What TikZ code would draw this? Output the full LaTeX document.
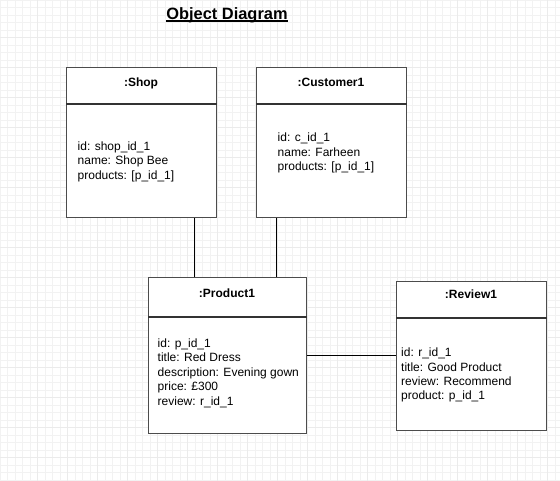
\documentclass[tikz,border=0pt]{standalone}
\usepackage{fontspec}
\setmainfont{Liberation Sans}
\begin{document}
\begin{tikzpicture}[x=1pt,y=-1pt,
  minorgrid/.style={draw=black!5,line width=0.5pt},
  majorgrid/.style={draw=black!8,line width=0.6pt},
  objbox/.style={draw=black!70,line width=1.3pt,fill=white,inner sep=0pt,anchor=north west},
  divider/.style={draw=black!80,line width=1.5pt},
  hdr/.style={font=\bfseries\fontsize{12}{14.5}\selectfont,inner sep=0pt,anchor=base},
  body/.style={font=\fontsize{12}{14.5}\selectfont,inner sep=0pt,anchor=base west},
  link/.style={draw=black,line width=1pt},
  titlestyle/.style={font=\bfseries\fontsize{16.4}{19}\selectfont,inner sep=0pt,anchor=base}]
\useasboundingbox (0,0) rectangle (560,481);
\fill[white] (0,0) rectangle (560,481);
% grid
\foreach \i in {0,...,74} \draw[minorgrid] (\i*7.5,0) -- (\i*7.5,481);
\foreach \i in {0,...,64} \draw[minorgrid] (0,\i*7.5) -- (560,\i*7.5);
\foreach \i in {0,...,17} \draw[majorgrid] (37.5+\i*30,0) -- (37.5+\i*30,481);
\foreach \i in {0,...,14} \draw[majorgrid] (0,37.5+\i*30) -- (560,37.5+\i*30);
% title
\node[titlestyle] (title) at (227,19.5) {Object Diagram};
\draw[line width=1.2pt] ([yshift=-1.6pt]title.base west) -- ([yshift=-1.6pt]title.base east);
% boxes
\node[objbox,minimum width=150pt,minimum height=150pt] (shop) at (66,67) {};
\node[objbox,minimum width=150pt,minimum height=150pt] (cust) at (256,67) {};
\node[objbox,minimum width=158pt,minimum height=156pt] (prod) at (148,277) {};
\node[objbox,minimum width=150pt,minimum height=149pt] (rev) at (396,281) {};
% dividers
\draw[divider] ([yshift=-37pt]shop.north west) -- ([yshift=-37pt]shop.north east);
\draw[divider] ([yshift=-37pt]cust.north west) -- ([yshift=-37pt]cust.north east);
\draw[divider] ([yshift=-40pt]prod.north west) -- ([yshift=-40pt]prod.north east);
\draw[divider] ([yshift=-37pt]rev.north west) -- ([yshift=-37pt]rev.north east);
% headers
\node[hdr] (shopt) at (141,87) {:Shop};
\node[hdr] (custt) at (331,87) {:Customer1};
\node[hdr] (prodt) at (227,297.6) {:Product1};
\node[hdr] (revt) at (471,298.5) {:Review1};
% bodies
\node[body] (shopb) at (77.5,150.5) {\begin{tabular}[t]{@{}l@{}}id: shop\_id\_1\\name: Shop Bee\\products: [p\_id\_1]\end{tabular}};
\node[body] (custb) at (277.5,141.8) {\begin{tabular}[t]{@{}l@{}}id: c\_id\_1\\name: Farheen\\products: [p\_id\_1]\end{tabular}};
\node[body] (prodb) at (157.5,347.2) {\begin{tabular}[t]{@{}l@{}}id: p\_id\_1\\title: Red Dress\\description: Evening gown\\price: £300\\review: r\_id\_1\end{tabular}};
\node[body] (revb) at (401,356.5) {\begin{tabular}[t]{@{}l@{}}id: r\_id\_1\\title: Good Product\\review: Recommend\\product: p\_id\_1\end{tabular}};
% connectors
\draw[link] ([xshift=53pt]shop.south) -- ([xshift=53pt]shop.south |- prod.north);
\draw[link] ([xshift=-55pt]cust.south) -- ([xshift=-55pt]cust.south |- prod.north);
\draw[link] (prod.east) -- (prod.east -| rev.west);
\end{tikzpicture}
\end{document}
